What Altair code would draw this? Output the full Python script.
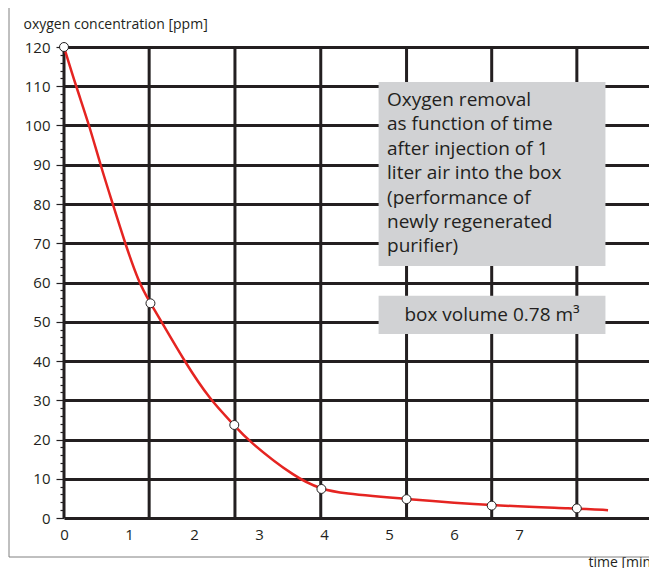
import altair as alt
import pandas as pd

# ---- data ----
point_t = [0, 1.33, 2.62, 3.96, 5.27, 6.58, 7.89]
point_c = [120, 54.7, 23.7, 7.4, 4.8, 3.15, 2.45]

curve_t = [0, 0.185, 0.39, 0.56, 0.75, 0.94, 1.15, 1.33, 1.50, 1.85, 2.25, 2.62,
           2.81, 3.58, 3.96, 4.25, 5.27, 6.58, 7.89, 8.37]
curve_c = [120, 110, 100, 90, 80, 70, 60, 54.7, 50, 40, 30, 23.7,
           20, 10, 7.4, 6.3, 4.8, 3.15, 2.45, 2.0]

grid_t = [0, 1.31, 2.63, 3.95, 5.27, 6.58, 7.89]
x_ticks = [0, 1, 2, 3, 4, 5, 6, 7]
y_ticks = list(range(0, 121, 2))

note_lines = ["Oxygen removal", "as function of time", "after injection of 1",
              "liter air into the box", "(performance of", "newly regenerated", "purifier)"]
volume_text = "box volume 0.78 m³"

FONT = "Open Sans"
INK = "#231f20"
W, H = 585, 471

points = pd.DataFrame({"t": point_t, "c": point_c})
curve = pd.DataFrame({"t": curve_t, "c": curve_c})
grid = pd.DataFrame({"t": grid_t})
box1 = pd.DataFrame({"t": [4.84], "t2": [8.33], "c": [111.1], "c2": [64.2]})
box2 = pd.DataFrame({"t": [4.84], "t2": [8.33], "c": [56.6], "c2": [46.9]})

major = "datum.value % 10 === 0"

x_axis = alt.Axis(values=x_ticks, grid=False, ticks=False, domain=False,
                  labelFlush=False,
                  labelFontSize=15, labelPadding=9, labelColor=INK, labelFont=FONT,
                  title="time [min]", titleX=524, titleY=44, titleAlign="left",
                  titleBaseline="middle", titleFontSize=14, titleFontWeight="normal",
                  titleColor=INK, titleFont=FONT)
y_axis = alt.Axis(values=y_ticks, labelExpr=f"{major} ? datum.label : ''",
                  labelFlush=False,
                  tickSize={"condition": {"test": major, "value": 8}, "value": 4},
                  gridOpacity={"condition": {"test": major, "value": 1}, "value": 0},
                  gridColor=INK, gridWidth=3, tickColor=INK, tickWidth=1.2,
                  domain=False, labelPadding=6, labelFontSize=15, labelColor=INK,
                  labelFont=FONT,
                  title="oxygen concentration [ppm]", titleAngle=0, titleX=-41,
                  titleY=-23, titleAlign="left", titleBaseline="middle",
                  titleFontSize=14, titleFontWeight="normal", titleColor=INK,
                  titleFont=FONT)

xs = alt.Scale(domain=[0, 9], nice=False, zero=False)
ys = alt.Scale(domain=[0, 120], nice=False)

X = alt.X("t:Q", scale=xs, axis=x_axis)
Y = alt.Y("c:Q", scale=ys, axis=y_axis)

frame = alt.Chart(alt.Data(values=[{}])).mark_rect(
    fill=None, stroke="#808080", strokeWidth=1
).encode(x=alt.value(-55), x2=alt.value(720), y=alt.value(-40), y2=alt.value(510))

vgrid = alt.Chart(grid).mark_rule(color=INK, strokeWidth=3).encode(x=X)

hbase = alt.Chart(points).mark_point(opacity=0).encode(x=X, y=Y)

b1 = alt.Chart(box1).mark_rect(color="#d1d2d4").encode(x=X, x2="t2:Q", y=Y, y2="c2:Q")
b2 = alt.Chart(box2).mark_rect(color="#d1d2d4").encode(x=X, x2="t2:Q", y=Y, y2="c2:Q")

t1 = alt.Chart(pd.DataFrame({"t": [4.97], "c": [106.5]})).mark_text(
    align="left", baseline="middle", fontSize=19, lineHeight=24.4, font=FONT, color=INK
).encode(x=X, y=Y, text=alt.value(note_lines))

t2 = alt.Chart(pd.DataFrame({"t": [6.585], "c": [51.75]})).mark_text(
    align="center", baseline="middle", fontSize=19, font=FONT, color=INK
).encode(x=X, y=Y, text=alt.value(volume_text))

line = alt.Chart(curve).mark_line(color="#e52421", strokeWidth=2.5,
                                  interpolate="basis").encode(x=X, y=Y)

dots = alt.Chart(points).mark_point(filled=True, fill="white", stroke=INK,
                                    strokeWidth=1, size=80, opacity=1).encode(x=X, y=Y)

chart = alt.layer(frame, vgrid, hbase, b1, b2, t1, t2, line, dots).properties(
    width=W, height=H,
    autosize=alt.AutoSizeParams(type="none"),
    padding={"left": 56, "top": 39, "right": 0, "bottom": 50},
).configure_view(stroke=None).configure(background="white")

chart.save("out.html", embed_options={"renderer": "svg", "actions": False})
